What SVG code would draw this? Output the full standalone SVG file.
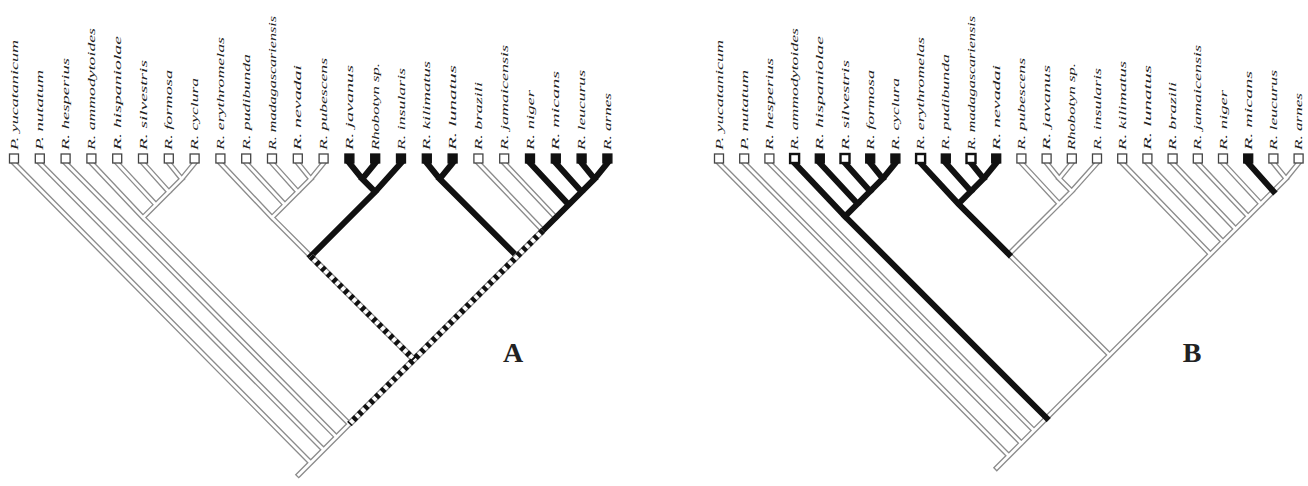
<svg xmlns="http://www.w3.org/2000/svg" xmlns:xlink="http://www.w3.org/1999/xlink" width="1308" height="486" viewBox="0 0 1308 486">
<style>
.ho{fill:none;stroke:#8c8c8c;stroke-width:5.5;stroke-linecap:square;stroke-linejoin:miter}
.hi{fill:none;stroke:#fff;stroke-width:2.8;stroke-linecap:square;stroke-linejoin:miter}
.bk{fill:none;stroke:#111;stroke-width:6;stroke-linecap:square;stroke-linejoin:miter}
.dto{fill:none;stroke:#888;stroke-width:6.5;stroke-linecap:butt}
.dti{fill:none;stroke:#fff;stroke-width:4;stroke-linecap:butt}
.dtd{fill:none;stroke:#111;stroke-width:6;stroke-dasharray:4 4;stroke-linecap:butt}
.sq{fill:#fff;stroke:#444;stroke-width:1.3}
.sqb{fill:#111;stroke:#111;stroke-width:1.3}
.sqt{fill:#fff;stroke:#111;stroke-width:2.4}
.lbl{font-family:"Liberation Serif","Times New Roman",serif;font-style:italic;font-size:11px;fill:#222}
.big{font-family:"Liberation Serif","Times New Roman",serif;font-weight:bold;font-size:28px;fill:#222;text-anchor:middle}
</style>
<defs>
<path id="hollowA" d="M14,163 L310.7,462.7 L298.7,474.7 M39.8,163 L323.6,449.8 M65.6,163 L336.5,436.9 M143,217.6 L349.4,424 L310.7,462.7 M91.4,163 L143,217.6 M117.2,163 L155.9,204.7 M143,163 L168.8,191.8 M168.8,163 L181.7,178.9 M194.6,163 L181.7,178.9 L143,217.6 M272,217.6 L310.7,256.3 M220.4,163 L272,217.6 M246.2,163 L284.9,204.7 M272,163 L297.8,191.8 M297.8,163 L310.7,178.9 M323.6,163 L310.7,178.9 L272,217.6 M478.4,163 L542.9,230.5 M504.2,163 L555.8,217.6"/>
<path id="hollowB" d="M719,163 L1008.8,455.8 L996.8,467.8 M744.2,163 L1021.4,443.2 M769.4,163 L1034,430.6 M1298.6,163 L1286,178.6 L1008.8,455.8 M1008.8,254.2 L1109.6,355 M1097,163 L1071.8,191.2 L1008.8,254.2 M1021.4,163 L1059.2,203.8 M1046.6,163 L1059.2,178.6 L1071.8,191.2 M1071.8,163 L1059.2,178.6 M1122.2,163 L1210.4,254.2 M1147.4,163 L1223,241.6 M1172.6,163 L1235.6,229 M1197.8,163 L1248.2,216.4 M1223,163 L1260.8,203.8 M1273.4,163 L1286,178.6"/>
<path id="dotA" d="M542.9,230.5 L517.1,256.3 L413.9,359.5 L349.4,424 M310.7,256.3 L413.9,359.5"/>
</defs>
<g id="connectors">
<use xlink:href="#hollowA" class="ho"/>
<use xlink:href="#hollowB" class="ho"/>
<use xlink:href="#hollowA" class="hi"/>
<use xlink:href="#hollowB" class="hi"/>
<path class="bk" d="M401,163 L375.2,191.8 L310.7,256.3 M349.4,163 L362.3,178.9 L375.2,191.8 M375.2,163 L362.3,178.9 M426.8,163 L439.7,178.9 L517.1,256.3 M452.6,163 L439.7,178.9 M607.4,163 L594.5,178.9 L542.9,230.5 M581.6,163 L594.5,178.9 M555.8,163 L581.6,191.8 M530,163 L568.7,204.7"/>
<path class="bk" d="M794.6,163 L845,216.4 L1046.6,418 M895.4,163 L882.8,178.6 L845,216.4 M819.8,163 L857.6,203.8 M845,163 L870.2,191.2 M870.2,163 L882.8,178.6 M920.6,163 L958.4,203.8 L1008.8,254.2 M996.2,163 L983.6,178.6 L958.4,203.8 M945.8,163 L971,191.2 M971,163 L983.6,178.6 M1248.2,163 L1273.4,191.2"/>
<use xlink:href="#dotA" class="dto"/>
<use xlink:href="#dotA" class="dti"/>
<use xlink:href="#dotA" class="dtd"/>
</g>
<g id="treeA">
<g id="A-t0"><rect class="sq" x="9.5" y="154" width="9" height="9"/><text class="lbl" transform="translate(17.6,150) rotate(-90)" textLength="110" lengthAdjust="spacingAndGlyphs">P. yucatanicum</text></g>
<g id="A-t1"><rect class="sq" x="35.3" y="154" width="9" height="9"/><text class="lbl" transform="translate(43.4,150) rotate(-90)" textLength="80" lengthAdjust="spacingAndGlyphs">P. nutatum</text></g>
<g id="A-t2"><rect class="sq" x="61.1" y="154" width="9" height="9"/><text class="lbl" transform="translate(69.2,150) rotate(-90)" textLength="92" lengthAdjust="spacingAndGlyphs">R. hesperius</text></g>
<g id="A-t3"><rect class="sq" x="86.9" y="154" width="9" height="9"/><text class="lbl" transform="translate(95,150) rotate(-90)" textLength="122" lengthAdjust="spacingAndGlyphs">R. ammodytoides</text></g>
<g id="A-t4"><rect class="sq" x="112.7" y="154" width="9" height="9"/><text class="lbl" transform="translate(120.8,150) rotate(-90)" textLength="114" lengthAdjust="spacingAndGlyphs">R. hispaniolae</text></g>
<g id="A-t5"><rect class="sq" x="138.5" y="154" width="9" height="9"/><text class="lbl" transform="translate(146.6,150) rotate(-90)" textLength="90" lengthAdjust="spacingAndGlyphs">R. silvestris</text></g>
<g id="A-t6"><rect class="sq" x="164.3" y="154" width="9" height="9"/><text class="lbl" transform="translate(172.4,150) rotate(-90)" textLength="80" lengthAdjust="spacingAndGlyphs">R. formosa</text></g>
<g id="A-t7"><rect class="sq" x="190.1" y="154" width="9" height="9"/><text class="lbl" transform="translate(198.2,150) rotate(-90)" textLength="72" lengthAdjust="spacingAndGlyphs">R. cyclura</text></g>
<g id="A-t8"><rect class="sq" x="215.9" y="154" width="9" height="9"/><text class="lbl" transform="translate(224,150) rotate(-90)" textLength="113" lengthAdjust="spacingAndGlyphs">R. erythromelas</text></g>
<g id="A-t9"><rect class="sq" x="241.7" y="154" width="9" height="9"/><text class="lbl" transform="translate(249.8,150) rotate(-90)" textLength="96" lengthAdjust="spacingAndGlyphs">R. pudibunda</text></g>
<g id="A-t10"><rect class="sq" x="267.5" y="154" width="9" height="9"/><text class="lbl" transform="translate(275.6,150) rotate(-90)" textLength="134" lengthAdjust="spacingAndGlyphs">R. madagascariensis</text></g>
<g id="A-t11"><rect class="sq" x="293.3" y="154" width="9" height="9"/><text class="lbl" transform="translate(301.4,150) rotate(-90)" textLength="85" lengthAdjust="spacingAndGlyphs">R. nevadai</text></g>
<g id="A-t12"><rect class="sq" x="319.1" y="154" width="9" height="9"/><text class="lbl" transform="translate(327.2,150) rotate(-90)" textLength="92" lengthAdjust="spacingAndGlyphs">R. pubescens</text></g>
<g id="A-t13"><rect class="sqb" x="344.9" y="154" width="9" height="9"/><text class="lbl" transform="translate(353,150) rotate(-90)" textLength="85" lengthAdjust="spacingAndGlyphs">R. javanus</text></g>
<g id="A-t14"><rect class="sqb" x="370.7" y="154" width="9" height="9"/><text class="lbl" transform="translate(378.8,150) rotate(-90)" textLength="87" lengthAdjust="spacingAndGlyphs">Rhobotyn sp.</text></g>
<g id="A-t15"><rect class="sqb" x="396.5" y="154" width="9" height="9"/><text class="lbl" transform="translate(404.6,150) rotate(-90)" textLength="82" lengthAdjust="spacingAndGlyphs">R. insularis</text></g>
<g id="A-t16"><rect class="sqb" x="422.3" y="154" width="9" height="9"/><text class="lbl" transform="translate(430.4,150) rotate(-90)" textLength="89" lengthAdjust="spacingAndGlyphs">R. kilimatus</text></g>
<g id="A-t17"><rect class="sqb" x="448.1" y="154" width="9" height="9"/><text class="lbl" transform="translate(456.2,150) rotate(-90)" textLength="85" lengthAdjust="spacingAndGlyphs">R. lunatus</text></g>
<g id="A-t18"><rect class="sq" x="473.9" y="154" width="9" height="9"/><text class="lbl" transform="translate(482,150) rotate(-90)" textLength="68" lengthAdjust="spacingAndGlyphs">R. brazili</text></g>
<g id="A-t19"><rect class="sq" x="499.7" y="154" width="9" height="9"/><text class="lbl" transform="translate(507.8,150) rotate(-90)" textLength="105" lengthAdjust="spacingAndGlyphs">R. jamaicensis</text></g>
<g id="A-t20"><rect class="sqb" x="525.5" y="154" width="9" height="9"/><text class="lbl" transform="translate(533.6,150) rotate(-90)" textLength="60" lengthAdjust="spacingAndGlyphs">R. niger</text></g>
<g id="A-t21"><rect class="sqb" x="551.3" y="154" width="9" height="9"/><text class="lbl" transform="translate(559.4,150) rotate(-90)" textLength="79" lengthAdjust="spacingAndGlyphs">R. micans</text></g>
<g id="A-t22"><rect class="sqb" x="577.1" y="154" width="9" height="9"/><text class="lbl" transform="translate(585.2,150) rotate(-90)" textLength="80" lengthAdjust="spacingAndGlyphs">R. leucurus</text></g>
<g id="A-t23"><rect class="sqb" x="602.9" y="154" width="9" height="9"/><text class="lbl" transform="translate(611,150) rotate(-90)" textLength="57" lengthAdjust="spacingAndGlyphs">R. arnes</text></g>
<text id="A-label" class="big" x="513" y="362">A</text>
</g>
<g id="treeB">
<g id="B-t0"><rect class="sq" x="714.5" y="154" width="9" height="9"/><text class="lbl" transform="translate(722.6,150) rotate(-90)" textLength="110" lengthAdjust="spacingAndGlyphs">P. yucatanicum</text></g>
<g id="B-t1"><rect class="sq" x="739.7" y="154" width="9" height="9"/><text class="lbl" transform="translate(747.8,150) rotate(-90)" textLength="80" lengthAdjust="spacingAndGlyphs">P. nutatum</text></g>
<g id="B-t2"><rect class="sq" x="764.9" y="154" width="9" height="9"/><text class="lbl" transform="translate(773,150) rotate(-90)" textLength="92" lengthAdjust="spacingAndGlyphs">R. hesperius</text></g>
<g id="B-t3"><rect class="sqt" x="790.1" y="154" width="9" height="9"/><text class="lbl" transform="translate(798.2,150) rotate(-90)" textLength="122" lengthAdjust="spacingAndGlyphs">R. ammodytoides</text></g>
<g id="B-t4"><rect class="sqb" x="815.3" y="154" width="9" height="9"/><text class="lbl" transform="translate(823.4,150) rotate(-90)" textLength="114" lengthAdjust="spacingAndGlyphs">R. hispaniolae</text></g>
<g id="B-t5"><rect class="sqt" x="840.5" y="154" width="9" height="9"/><text class="lbl" transform="translate(848.6,150) rotate(-90)" textLength="90" lengthAdjust="spacingAndGlyphs">R. silvestris</text></g>
<g id="B-t6"><rect class="sqb" x="865.7" y="154" width="9" height="9"/><text class="lbl" transform="translate(873.8,150) rotate(-90)" textLength="80" lengthAdjust="spacingAndGlyphs">R. formosa</text></g>
<g id="B-t7"><rect class="sqb" x="890.9" y="154" width="9" height="9"/><text class="lbl" transform="translate(899,150) rotate(-90)" textLength="72" lengthAdjust="spacingAndGlyphs">R. cyclura</text></g>
<g id="B-t8"><rect class="sqt" x="916.1" y="154" width="9" height="9"/><text class="lbl" transform="translate(924.2,150) rotate(-90)" textLength="113" lengthAdjust="spacingAndGlyphs">R. erythromelas</text></g>
<g id="B-t9"><rect class="sqb" x="941.3" y="154" width="9" height="9"/><text class="lbl" transform="translate(949.4,150) rotate(-90)" textLength="96" lengthAdjust="spacingAndGlyphs">R. pudibunda</text></g>
<g id="B-t10"><rect class="sqt" x="966.5" y="154" width="9" height="9"/><text class="lbl" transform="translate(974.6,150) rotate(-90)" textLength="134" lengthAdjust="spacingAndGlyphs">R. madagascariensis</text></g>
<g id="B-t11"><rect class="sqb" x="991.7" y="154" width="9" height="9"/><text class="lbl" transform="translate(999.8,150) rotate(-90)" textLength="85" lengthAdjust="spacingAndGlyphs">R. nevadai</text></g>
<g id="B-t12"><rect class="sq" x="1016.9" y="154" width="9" height="9"/><text class="lbl" transform="translate(1025,150) rotate(-90)" textLength="92" lengthAdjust="spacingAndGlyphs">R. pubescens</text></g>
<g id="B-t13"><rect class="sq" x="1042.1" y="154" width="9" height="9"/><text class="lbl" transform="translate(1050.2,150) rotate(-90)" textLength="85" lengthAdjust="spacingAndGlyphs">R. javanus</text></g>
<g id="B-t14"><rect class="sq" x="1067.3" y="154" width="9" height="9"/><text class="lbl" transform="translate(1075.4,150) rotate(-90)" textLength="87" lengthAdjust="spacingAndGlyphs">Rhobotyn sp.</text></g>
<g id="B-t15"><rect class="sq" x="1092.5" y="154" width="9" height="9"/><text class="lbl" transform="translate(1100.6,150) rotate(-90)" textLength="82" lengthAdjust="spacingAndGlyphs">R. insularis</text></g>
<g id="B-t16"><rect class="sq" x="1117.7" y="154" width="9" height="9"/><text class="lbl" transform="translate(1125.8,150) rotate(-90)" textLength="89" lengthAdjust="spacingAndGlyphs">R. kilimatus</text></g>
<g id="B-t17"><rect class="sq" x="1142.9" y="154" width="9" height="9"/><text class="lbl" transform="translate(1151,150) rotate(-90)" textLength="85" lengthAdjust="spacingAndGlyphs">R. lunatus</text></g>
<g id="B-t18"><rect class="sq" x="1168.1" y="154" width="9" height="9"/><text class="lbl" transform="translate(1176.2,150) rotate(-90)" textLength="68" lengthAdjust="spacingAndGlyphs">R. brazili</text></g>
<g id="B-t19"><rect class="sq" x="1193.3" y="154" width="9" height="9"/><text class="lbl" transform="translate(1201.4,150) rotate(-90)" textLength="105" lengthAdjust="spacingAndGlyphs">R. jamaicensis</text></g>
<g id="B-t20"><rect class="sq" x="1218.5" y="154" width="9" height="9"/><text class="lbl" transform="translate(1226.6,150) rotate(-90)" textLength="60" lengthAdjust="spacingAndGlyphs">R. niger</text></g>
<g id="B-t21"><rect class="sqb" x="1243.7" y="154" width="9" height="9"/><text class="lbl" transform="translate(1251.8,150) rotate(-90)" textLength="79" lengthAdjust="spacingAndGlyphs">R. micans</text></g>
<g id="B-t22"><rect class="sq" x="1268.9" y="154" width="9" height="9"/><text class="lbl" transform="translate(1277,150) rotate(-90)" textLength="80" lengthAdjust="spacingAndGlyphs">R. leucurus</text></g>
<g id="B-t23"><rect class="sq" x="1294.1" y="154" width="9" height="9"/><text class="lbl" transform="translate(1302.2,150) rotate(-90)" textLength="57" lengthAdjust="spacingAndGlyphs">R. arnes</text></g>
<text id="B-label" class="big" x="1192" y="362">B</text>
</g>
</svg>
